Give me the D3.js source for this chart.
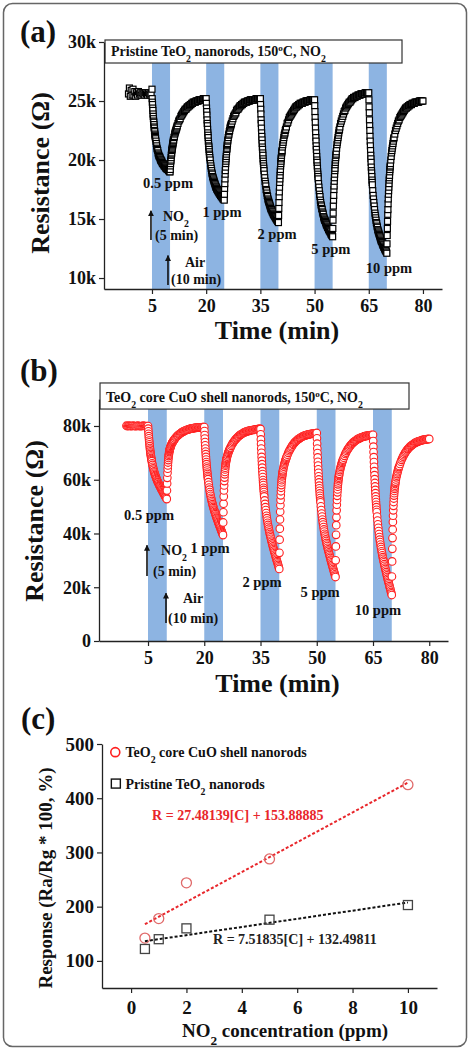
<!DOCTYPE html>
<html lang="en">
<head>
<meta charset="UTF-8">
<title>TeO2 nanorods NO2 sensing</title>
<script src="https://d3js.org/d3.v7.min.js"></script>
<style>
  body { margin: 0; background: #fff; }
  svg text { font-family: "Liberation Serif", "Times New Roman", serif; font-weight: bold; fill: #111; }
</style>
</head>
<body>
<svg id="fig" width="471" height="1050"></svg>
<script>
// ---- sampling grid (minutes after the gas switch) ----
const FALL_DT = [0.05,0.1,0.15,0.2,0.25,0.3,0.35,0.4,0.45,0.5,0.55,0.6,0.65,0.7,0.75,0.8,0.85,0.9,0.95,1,
  1.1,1.2,1.3,1.4,1.5,1.6,1.7,1.8,1.9,2,2.1,2.2,2.3,2.4,2.5,2.6,2.7,2.8,2.9,3,
  3.1,3.2,3.3,3.4,3.5,3.6,3.7,3.8,3.9,4,4.1,4.2,4.3,4.4,4.5,4.6,4.7,4.8,4.9,5];
const RISE_DT = [0.05,0.1,0.15,0.2,0.25,0.3,0.35,0.4,0.45,0.5,0.55,0.6,0.65,0.7,0.75,0.8,0.85,0.9,0.95,1,
  1.1,1.2,1.3,1.4,1.5,1.6,1.7,1.8,1.9,2,
  2.2,2.4,2.6,2.8,3,3.2,3.4,3.6,3.8,4,4.2,4.4,4.6,4.8,5,5.2,5.4,5.6,5.8,6,
  6.2,6.4,6.6,6.8,7,7.2,7.4,7.6,7.8,8,8.2,8.4,8.6,8.8,9,9.2,9.4,9.6,9.8,10];

const TIME_TICKS = [5, 20, 35, 50, 65, 80];
const NO2_ON = [5, 20, 35, 50, 65];          // start of each 5 min NO2 pulse
const PPM_LABELS = ["0.5 ppm", "1 ppm", "2 ppm", "5 ppm", "10 ppm"];

// ---- (a) pristine TeO2, resistance in kOhm ----
const A_YTICKS = [10, 15, 20, 25, 30];
const aBaseT = [-1.5,-1.25,-1,-0.75,-0.5,-0.25,0,0.25,0.5,0.75,1,1.25,1.5,1.75,2,2.25,2.5,2.75,3,3.25,3.5,3.75,4,4.25,4.5,4.75,5];
const aBaseR = [25.6,26.1,25.4,25.9,25.5,26.0,25.5,25.8,25.4,25.7,25.5,25.8,25.6,25.7,25.5,25.7,25.6,25.6,25.5,25.7,25.6,25.5,25.7,25.6,25.5,25.6,26.0];
const aFall = [
  [25.2,24.9,24.7,24.4,24.2,23.9,23.7,23.5,23.3,23.2,23.0,22.8,22.7,22.5,22.4,22.2,22.1,22.0,21.9,21.8,
   21.6,21.4,21.2,21.0,20.9,20.8,20.6,20.5,20.4,20.3,20.3,20.2,20.1,20.0,20.0,19.9,19.9,19.8,19.7,19.7,
   19.7,19.6,19.6,19.5,19.5,19.5,19.4,19.4,19.3,19.3,19.3,19.2,19.2,19.2,19.2,19.1,19.1,19.1,19.0,19.0],
  [24.8,24.4,24.1,23.8,23.4,23.1,22.9,22.6,22.3,22.1,21.9,21.6,21.4,21.2,21.1,20.9,20.7,20.5,20.4,20.2,
   20.0,19.7,19.5,19.3,19.1,18.9,18.8,18.6,18.5,18.4,18.3,18.2,18.1,18.0,17.9,17.8,17.7,17.7,17.6,17.5,
   17.5,17.4,17.4,17.3,17.3,17.2,17.2,17.1,17.1,17.0,17.0,16.9,16.9,16.9,16.8,16.8,16.7,16.7,16.7,16.6],
  [24.7,24.3,23.9,23.4,23.1,22.7,22.3,22.0,21.7,21.4,21.1,20.9,20.6,20.4,20.1,19.9,19.7,19.5,19.3,19.1,
   18.8,18.5,18.2,18.0,17.8,17.5,17.4,17.2,17.0,16.9,16.7,16.6,16.5,16.4,16.3,16.2,16.1,16.0,15.9,15.8,
   15.8,15.7,15.6,15.6,15.5,15.4,15.4,15.3,15.3,15.2,15.2,15.1,15.1,15.0,15.0,14.9,14.9,14.8,14.8,14.7],
  [24.6,24.1,23.6,23.2,22.7,22.3,21.9,21.6,21.2,20.9,20.6,20.3,20.0,19.8,19.5,19.3,19.0,18.8,18.6,18.4,
   18.0,17.7,17.4,17.1,16.9,16.6,16.4,16.2,16.1,15.9,15.8,15.6,15.5,15.4,15.2,15.1,15.0,14.9,14.9,14.8,
   14.7,14.6,14.5,14.5,14.4,14.3,14.3,14.2,14.1,14.1,14.0,14.0,13.9,13.9,13.8,13.7,13.7,13.6,13.6,13.5],
  [25.1,24.5,24.0,23.4,22.9,22.5,22.0,21.6,21.2,20.8,20.4,20.1,19.8,19.4,19.1,18.9,18.6,18.3,18.1,17.9,
   17.4,17.0,16.7,16.4,16.1,15.8,15.5,15.3,15.1,14.9,14.7,14.6,14.4,14.3,14.1,14.0,13.9,13.8,13.7,13.6,
   13.5,13.4,13.3,13.2,13.1,13.1,13.0,12.9,12.8,12.8,12.7,12.6,12.6,12.5,12.4,12.4,12.3,12.3,12.2,12.1]
];
const aRise = [
  [19.2,19.5,19.7,19.9,20.0,20.2,20.4,20.5,20.6,20.8,20.9,21.0,21.1,21.2,21.3,21.4,21.5,21.6,21.7,21.7,
   21.9,22.0,22.2,22.3,22.4,22.5,22.6,22.7,22.8,22.9,23.1,23.3,23.4,23.5,23.7,23.8,23.9,24.0,24.1,24.2,
   24.3,24.3,24.4,24.5,24.5,24.6,24.6,24.7,24.7,24.8,24.8,24.9,24.9,24.9,24.9,25.0,25.0,25.0,25.0,25.1,
   25.1,25.1,25.1,25.1,25.1,25.2,25.2,25.2,25.2,25.2],
  [17.1,17.6,18.0,18.4,18.8,19.1,19.4,19.7,19.9,20.1,20.3,20.5,20.7,20.9,21.0,21.2,21.3,21.4,21.6,21.7,
   21.9,22.1,22.2,22.4,22.5,22.7,22.8,22.9,23.0,23.1,23.3,23.5,23.7,23.8,23.9,24.0,24.2,24.3,24.3,24.4,
   24.5,24.6,24.6,24.7,24.7,24.8,24.8,24.9,24.9,24.9,24.9,25.0,25.0,25.0,25.0,25.1,25.1,25.1,25.1,25.1,
   25.1,25.1,25.1,25.2,25.2,25.2,25.2,25.2,25.2,25.2],
  [15.3,15.9,16.4,16.9,17.3,17.7,18.1,18.4,18.7,19.0,19.2,19.5,19.7,19.9,20.1,20.2,20.4,20.6,20.7,20.8,
   21.1,21.3,21.5,21.7,21.9,22.1,22.2,22.3,22.5,22.6,22.8,23.1,23.2,23.4,23.6,23.7,23.8,23.9,24.0,24.1,
   24.2,24.3,24.4,24.5,24.5,24.6,24.6,24.7,24.7,24.8,24.8,24.8,24.8,24.9,24.9,24.9,24.9,25.0,25.0,25.0,
   25.0,25.0,25.0,25.1,25.1,25.1,25.1,25.1,25.1,25.1],
  [14.2,14.9,15.5,16.1,16.6,17.0,17.5,17.8,18.2,18.5,18.8,19.1,19.3,19.6,19.8,20.0,20.2,20.4,20.5,20.7,
   21.0,21.3,21.5,21.7,21.9,22.1,22.3,22.5,22.6,22.8,23.1,23.3,23.5,23.7,23.9,24.1,24.2,24.4,24.5,24.6,
   24.7,24.8,24.9,24.9,25.0,25.1,25.2,25.2,25.3,25.3,25.3,25.4,25.4,25.4,25.5,25.5,25.5,25.5,25.6,25.6,
   25.6,25.6,25.6,25.6,25.7,25.7,25.7,25.7,25.7,25.7],
  [12.9,13.6,14.2,14.8,15.4,15.8,16.3,16.7,17.1,17.4,17.7,18.0,18.3,18.5,18.7,19.0,19.2,19.4,19.5,19.7,
   20.0,20.3,20.6,20.8,21.0,21.2,21.4,21.6,21.8,21.9,22.2,22.5,22.7,22.9,23.1,23.3,23.4,23.6,23.7,23.8,
   23.9,24.0,24.1,24.2,24.3,24.4,24.4,24.5,24.5,24.6,24.6,24.7,24.7,24.7,24.8,24.8,24.8,24.8,24.9,24.9,
   24.9,24.9,24.9,24.9,25.0,25.0,25.0,25.0,25.0,25.0]
];

// ---- (b) TeO2 core / CuO shell, resistance in kOhm ----
const B_YTICKS = [0, 20, 40, 60, 80];
const bBaseT = [-0.75,-0.5,-0.25,0,0.25,0.5,0.75,1,1.25,1.5,1.75,2,2.25,2.5,2.75,3,3.25,3.5,3.75,4,4.25,4.5,4.75,5];
const bBaseR = [80.1,79.9,80.0,80.1,80.0,79.9,80.0,80.1,80.0,80.0,79.9,80.0,80.1,80.0,80.0,79.9,80.0,80.0,80.1,80.0,80.0,79.9,80.0,80.0];
const bFall = [
  [79.0,78.0,77.1,76.2,75.4,74.6,73.9,73.2,72.5,71.8,71.2,70.6,70.1,69.6,69.1,68.6,68.1,67.7,67.3,66.9,
   66.1,65.5,64.8,64.2,63.7,63.1,62.7,62.2,61.8,61.4,61.0,60.6,60.3,59.9,59.6,59.2,59.0,58.6,58.4,58.0,
   57.8,57.5,57.2,56.9,56.7,56.4,56.1,55.9,55.6,55.4,55.1,54.8,54.6,54.3,54.1,53.8,53.6,53.3,53.1,52.8],
  [78.1,76.6,75.3,74.0,72.8,71.6,70.5,69.5,68.5,67.5,66.6,65.8,64.9,64.2,63.4,62.7,62.1,61.4,60.8,60.2,
   59.1,58.1,57.1,56.3,55.4,54.7,54.0,53.3,52.7,52.1,51.5,50.9,50.4,49.9,49.4,48.9,48.5,48.0,47.6,47.2,
   46.7,46.3,45.9,45.5,45.1,44.7,44.3,43.9,43.5,43.2,42.8,42.4,42.1,41.6,41.3,40.9,40.6,40.2,39.8,39.4],
  [76.9,75.0,73.3,71.6,70.0,68.5,67.1,65.8,64.5,63.2,62.1,61.0,59.9,58.9,58.0,57.0,56.2,55.4,54.5,53.8,
   52.3,51.0,49.8,48.7,47.6,46.6,45.7,44.8,44.0,43.2,42.5,41.8,41.1,40.4,39.8,39.2,38.6,38.0,37.4,36.9,
   36.3,35.8,35.2,34.7,34.2,33.7,33.2,32.7,32.2,31.7,31.2,30.7,30.2,29.7,29.3,28.8,28.3,27.8,27.3,26.8],
  [75.4,73.4,71.6,69.9,68.3,66.7,65.3,63.9,62.6,61.3,60.1,59.0,57.8,56.8,55.9,54.9,54.0,53.2,52.3,51.6,
   50.1,48.7,47.4,46.3,45.2,44.2,43.3,42.4,41.5,40.7,39.9,39.2,38.5,37.8,37.2,36.5,35.9,35.3,34.7,34.1,
   33.6,33.0,32.5,32.0,31.4,30.9,30.3,29.9,29.3,28.8,28.3,27.8,27.3,26.8,26.3,25.8,25.4,24.8,24.3,23.8],
  [74.4,72.3,70.3,68.4,66.6,64.8,63.2,61.7,60.2,58.8,57.5,56.2,55.0,53.8,52.7,51.7,50.7,49.8,48.8,48.0,
   46.3,44.8,43.4,42.1,40.9,39.8,38.7,37.7,36.8,35.9,35.0,34.2,33.4,32.7,31.9,31.2,30.6,29.9,29.3,28.6,
   28.0,27.3,26.8,26.2,25.6,25.0,24.4,23.8,23.2,22.7,22.1,21.6,21.0,20.4,19.9,19.4,18.8,18.2,17.7,17.1]
];
const bRise = [
  [56.0,58.6,60.7,62.6,64.1,65.3,66.4,67.3,68.1,68.8,69.3,69.8,70.3,70.7,71.0,71.3,71.6,71.8,72.0,72.3,
   72.6,73.0,73.3,73.6,73.8,74.1,74.3,74.5,74.8,74.9,75.3,75.7,76.0,76.3,76.5,76.8,77.0,77.2,77.4,77.6,
   77.8,77.9,78.1,78.2,78.3,78.5,78.6,78.6,78.7,78.8,78.9,79.0,79.0,79.1,79.1,79.2,79.3,79.3,79.3,79.4,
   79.4,79.4,79.4,79.5,79.5,79.5,79.5,79.6,79.6,79.6],
  [44.1,47.9,51.1,53.8,56.0,57.9,59.5,60.8,62.0,62.9,63.8,64.5,65.2,65.7,66.2,66.7,67.1,67.5,67.8,68.1,
   68.6,69.1,69.6,70.0,70.4,70.8,71.1,71.4,71.8,72.0,72.6,73.1,73.6,74.0,74.4,74.8,75.1,75.4,75.7,76.0,
   76.2,76.5,76.7,76.9,77.0,77.2,77.4,77.5,77.6,77.8,77.9,78.0,78.1,78.2,78.2,78.3,78.4,78.4,78.5,78.5,
   78.6,78.6,78.7,78.7,78.7,78.8,78.8,78.9,78.9,78.9],
  [32.8,37.7,41.8,45.2,48.1,50.5,52.5,54.2,55.7,57.0,58.0,59.0,59.8,60.5,61.2,61.7,62.2,62.7,63.1,63.5,
   64.2,64.9,65.5,66.0,66.5,67.0,67.4,67.8,68.2,68.6,69.3,70.0,70.6,71.1,71.6,72.1,72.5,73.0,73.3,73.7,
   74.0,74.3,74.5,74.8,75.0,75.2,75.4,75.6,75.8,75.9,76.1,76.2,76.3,76.4,76.5,76.6,76.7,76.8,76.9,76.9,
   77.0,77.0,77.1,77.1,77.2,77.2,77.3,77.3,77.3,77.4],
  [30.0,35.2,39.5,43.1,46.0,48.6,50.7,52.5,54.0,55.3,56.4,57.4,58.3,59.0,59.7,60.3,60.8,61.4,61.8,62.2,
   63.0,63.6,64.2,64.8,65.3,65.8,66.3,66.7,67.1,67.5,68.2,68.9,69.6,70.1,70.7,71.2,71.6,72.0,72.4,72.8,
   73.1,73.4,73.7,74.0,74.2,74.4,74.6,74.8,75.0,75.2,75.3,75.4,75.6,75.7,75.8,75.9,76.0,76.1,76.2,76.2,
   76.3,76.3,76.4,76.4,76.5,76.5,76.6,76.6,76.6,76.7],
  [24.0,29.6,34.3,38.3,41.5,44.3,46.6,48.6,50.3,51.7,53.0,54.1,55.0,55.8,56.6,57.2,57.8,58.4,58.8,59.3,
   60.1,60.9,61.5,62.1,62.7,63.2,63.8,64.2,64.7,65.1,65.9,66.7,67.4,68.0,68.6,69.1,69.6,70.1,70.5,70.9,
   71.3,71.6,71.9,72.2,72.5,72.7,72.9,73.1,73.3,73.5,73.7,73.8,74.0,74.1,74.2,74.3,74.4,74.5,74.6,74.7,
   74.7,74.8,74.9,74.9,75.0,75.0,75.1,75.1,75.1,75.2]
];

// ---- (c) response vs concentration ----
const concPpm = [0.5, 1, 2, 5, 10];
const respCoreShell = [142, 178, 244, 288, 425];
const respPristine = [122, 140, 160, 176, 203];
const fitCoreShell = [27.48139, 153.88885];   // slope, intercept
const fitPristine = [7.51835, 132.49811];
const C_XTICKS = [0, 2, 4, 6, 8, 10];
const C_YTICKS = [100, 200, 300, 400, 500];

const BAND = "#8db4e2";
const RED = "#ff1f1f";

const svg = d3.select("#fig");

// frame round the whole figure
svg.append("rect").attr("x", 3.5).attr("y", 3.5).attr("width", 463).attr("height", 1043)
  .attr("rx", 9).attr("fill", "none").attr("stroke", "#666").attr("stroke-width", 1.5);

const defs = svg.append("defs");
defs.append("marker").attr("id", "head").attr("viewBox", "0 0 10 10")
  .attr("refX", 9).attr("refY", 5).attr("markerWidth", 6).attr("markerHeight", 6)
  .attr("markerUnits", "userSpaceOnUse").attr("orient", "auto")
  .append("path").attr("d", "M0,0L10,5L0,10Z").attr("fill", "#111");

// text with sub/superscript pieces: [[str, "sub"|"sup"|""], ...]
function rich(g, x, y, parts, size, anchor) {
  const t = g.append("text").attr("x", x).attr("y", y).attr("font-size", size)
    .attr("text-anchor", anchor || "start");
  parts.forEach(([s, k]) => {
    const sp = t.append("tspan").text(s);
    if (k === "sub") sp.attr("baseline-shift", "sub").attr("font-size", "70%");
    if (k === "sup") sp.attr("baseline-shift", "super").attr("font-size", "65%");
  });
  return t;
}

function buildSeries(baseT, baseR, fall, rise) {
  const pts = baseT.map((t, i) => ({ t, r: baseR[i] }));
  NO2_ON.forEach((t0, k) => {
    FALL_DT.forEach((dt, i) => pts.push({ t: t0 + dt, r: fall[k][i] }));
    RISE_DT.forEach((dt, i) => pts.push({ t: t0 + 5 + dt, r: rise[k][i] }));
  });
  return pts.filter(d => d.r !== undefined);
}

function styleAxis(g, size) {
  g.select(".domain").attr("stroke", "#222").attr("stroke-width", 1.3);
  g.selectAll(".tick line").attr("stroke", "#222").attr("stroke-width", 1.2);
  g.selectAll(".tick text").attr("font-size", size).attr("fill", "#111")
    .attr("font-family", '"Liberation Serif", serif').attr("font-weight", "bold");
}

function drawTransient(cfg) {
  const { x, y, pts, yTicks, fmt, marker, title, box, ylabelPos, xlabelY, labels, ann } = cfg;
  const g = svg.append("g");
  const [yBot, yTop] = y.range();

  g.selectAll("rect.band").data(NO2_ON).join("rect").attr("class", "band")
    .attr("x", d => x(d)).attr("width", d => x(d + 5) - x(d))
    .attr("y", yTop).attr("height", yBot - yTop).attr("fill", BAND);

  // title box
  g.append("rect").attr("x", x(box[0])).attr("y", y(box[2]))
    .attr("width", x(box[1]) - x(box[0])).attr("height", y(box[3]) - y(box[2]))
    .attr("fill", "#fff").attr("stroke", "#333").attr("stroke-width", 1.2);
  rich(g, x(box[0]) + 6, y(box[3]) - 7, title, 14);

  const ax = g.append("g").attr("transform", `translate(0,${yBot})`)
    .call(d3.axisBottom(x).tickValues(TIME_TICKS).tickSize(5).tickSizeOuter(0).tickPadding(5));
  styleAxis(ax, 18);
  const ay = g.append("g").attr("transform", `translate(${x.range()[0]},0)`)
    .call(d3.axisLeft(y).tickValues(yTicks).tickFormat(fmt).tickSize(5).tickSizeOuter(0).tickPadding(3));
  styleAxis(ay, 18);

  g.append("text").attr("x", (x.range()[0] + x.range()[1]) / 2 + 4).attr("y", xlabelY)
    .attr("text-anchor", "middle").attr("font-size", 26).text("Time (min)");
  g.append("text").attr("transform", `translate(${ylabelPos[0]},${ylabelPos[1]}) rotate(-90)`)
    .attr("text-anchor", "middle").attr("dy", "0.35em").attr("font-size", 26).text("Resistance (\u03a9)");

  // data markers
  if (marker === "square") {
    g.selectAll("rect.pt").data(pts).join("rect").attr("class", "pt")
      .attr("x", d => x(d.t) - 3).attr("y", d => y(d.r) - 3).attr("width", 6).attr("height", 6)
      .attr("fill", "#fff").attr("stroke", "#000").attr("stroke-width", 1.2);
  } else {
    g.selectAll("circle.pt").data(pts).join("circle").attr("class", "pt")
      .attr("cx", d => x(d.t)).attr("cy", d => y(d.r)).attr("r", 3.8)
      .attr("fill", "#fff").attr("stroke", RED).attr("stroke-width", 1.1);
  }

  // concentration labels
  labels.forEach(([t, r], i) => {
    g.append("text").attr("x", x(t)).attr("y", y(r)).attr("text-anchor", "middle")
      .attr("font-size", 14.5).text(PPM_LABELS[i]);
  });

  // NO2 / Air arrows
  ann.arrows.forEach(([t, r0, r1]) => {
    g.append("line").attr("x1", x(t)).attr("x2", x(t)).attr("y1", y(r0)).attr("y2", y(r1))
      .attr("stroke", "#111").attr("stroke-width", 1.6).attr("marker-end", "url(#head)");
  });
  rich(g, x(ann.no2[0]), y(ann.no2[1]), [["NO", ""], ["2", "sub"]], 14);
  rich(g, x(ann.five[0]), y(ann.five[1]), [["(5 min)", ""]], 14);
  rich(g, x(ann.air[0]), y(ann.air[1]), [["Air", ""]], 14);
  rich(g, x(ann.ten[0]), y(ann.ten[1]), [["(10 min)", ""]], 14);
}

// ---------- panel (a) ----------
const xA = d3.scaleLinear().domain([-8.28, 85.27]).range([104, 442]);
const yA = d3.scaleLinear().domain([9.07, 30]).range([289, 42]);
drawTransient({
  x: xA, y: yA, pts: buildSeries(aBaseT, aBaseR, aFall, aRise),
  yTicks: A_YTICKS, fmt: d => d + "k", marker: "square",
  title: [["Pristine TeO", ""], ["2", "sub"], [" nanorods, 150", ""], ["o", "sup"], ["C, NO", ""], ["2", "sub"]],
  box: [-8.0, 74.2, 30.17, 28.22],
  ylabelPos: [40, 173], xlabelY: 339,
  labels: [[9.43, 17.63], [24.37, 15.17], [39.6, 13.31], [54.5, 12.03], [70.6, 10.42]],
  ann: { arrows: [[4.72, 13.22, 15.7], [9.43, 9.41, 11.9]],
         no2: [8.04, 14.83], five: [5.83, 13.22], air: [14.13, 10.93], ten: [10.26, 9.49] }
});

// ---------- panel (b) ----------
const xB = d3.scaleLinear().domain([-8.07, 85]).range([99, 448]);
const yB = d3.scaleLinear().domain([0, 90]).range([641, 399.1]);
drawTransient({
  x: xB, y: yB, pts: buildSeries(bBaseT, bBaseR, bFall, bRise),
  yTicks: B_YTICKS, fmt: d => d === 0 ? "0" : d + "k", marker: "circle",
  title: [["TeO", ""], ["2", "sub"], [" core CuO shell nanorods, 150", ""], ["o", "sup"], ["C, NO", ""], ["2", "sub"]],
  box: [-7.8, 74.6, 96.0, 86.3],
  ylabelPos: [34, 521], xlabelY: 692,
  labels: [[5.27, 45.0], [21.53, 32.7], [35.4, 20.1], [50.9, 16.4], [66.3, 9.7]],
  ann: { arrows: [[4.73, 24.2, 35.6], [9.8, 6.7, 17.8]],
         no2: [8.47, 32.0], five: [6.33, 24.2], air: [14.33, 14.1], ten: [10.33, 6.7] }
});

// panel letters
[["(a)", 20, 42], ["(b)", 20, 381], ["(c)", 21, 729]].forEach(([s, px, py]) => {
  svg.append("text").attr("x", px).attr("y", py).attr("font-size", 31).text(s);
});

// ---------- panel (c) ----------
const xC = d3.scaleLinear().domain([-1.05, 11.05]).range([102, 437]);
const yC = d3.scaleLinear().domain([50, 500]).range([988, 744]);
const gc = svg.append("g");
const cx = gc.append("g").attr("transform", `translate(0,${yC.range()[0]})`)
  .call(d3.axisBottom(xC).tickValues(C_XTICKS).tickSize(5).tickSizeOuter(0).tickPadding(8));
styleAxis(cx, 19);
const cy = gc.append("g").attr("transform", `translate(${xC.range()[0]},0)`)
  .call(d3.axisLeft(yC).tickValues(C_YTICKS).tickSize(5).tickSizeOuter(0).tickPadding(3));
styleAxis(cy, 19);

rich(gc, 285, 1037, [["NO", ""], ["2", "sub"], [" concentration (ppm)", ""]], 19, "middle");
gc.append("text").attr("transform", "translate(45,878) rotate(-90)").attr("text-anchor", "middle")
  .attr("dy", "0.35em").attr("font-size", 19).text("Response (Ra/Rg * 100, %)");

// fit lines from the printed equations
[[fitCoreShell, "#e8262b"], [fitPristine, "#111"]].forEach(([f, col]) => {
  const ends = [concPpm[0], concPpm[concPpm.length - 1]];
  gc.append("line")
    .attr("x1", xC(ends[0])).attr("y1", yC(f[0] * ends[0] + f[1]))
    .attr("x2", xC(ends[1])).attr("y2", yC(f[0] * ends[1] + f[1]))
    .attr("stroke", col).attr("stroke-width", 2).attr("stroke-dasharray", "3,2");
});

gc.selectAll("circle.cs").data(concPpm).join("circle").attr("class", "cs")
  .attr("cx", d => xC(d)).attr("cy", (d, i) => yC(respCoreShell[i])).attr("r", 5)
  .attr("fill", "none").attr("stroke", "#e06a6a").attr("stroke-width", 1.3);
gc.selectAll("rect.pr").data(concPpm).join("rect").attr("class", "pr")
  .attr("x", d => xC(d) - 4.5).attr("y", (d, i) => yC(respPristine[i]) - 4.5)
  .attr("width", 9).attr("height", 9)
  .attr("fill", "none").attr("stroke", "#444").attr("stroke-width", 1.3);

// legend
gc.append("circle").attr("cx", xC(-0.57)).attr("cy", yC(485)).attr("r", 4.5)
  .attr("fill", "none").attr("stroke", RED).attr("stroke-width", 1.6);
rich(gc, xC(-0.2), yC(485) + 5, [["TeO", ""], ["2", "sub"], [" core CuO shell nanorods", ""]], 14);
gc.append("rect").attr("x", xC(-0.55) - 4.5).attr("y", yC(427) - 4.5).attr("width", 9).attr("height", 9)
  .attr("fill", "none").attr("stroke", "#111").attr("stroke-width", 1.4);
rich(gc, xC(-0.2), yC(427) + 5, [["Pristine TeO", ""], ["2", "sub"], [" nanorods", ""]], 14);

gc.append("text").attr("x", xC(0.76)).attr("y", yC(360)).attr("font-size", 14).style("fill", "#e8262b")
  .text("R = 27.48139[C] + 153.88885");
gc.append("text").attr("x", xC(2.96)).attr("y", yC(131)).attr("font-size", 14).style("fill", "#222")
  .text("R = 7.51835[C] + 132.49811");
</script>
</body>
</html>
